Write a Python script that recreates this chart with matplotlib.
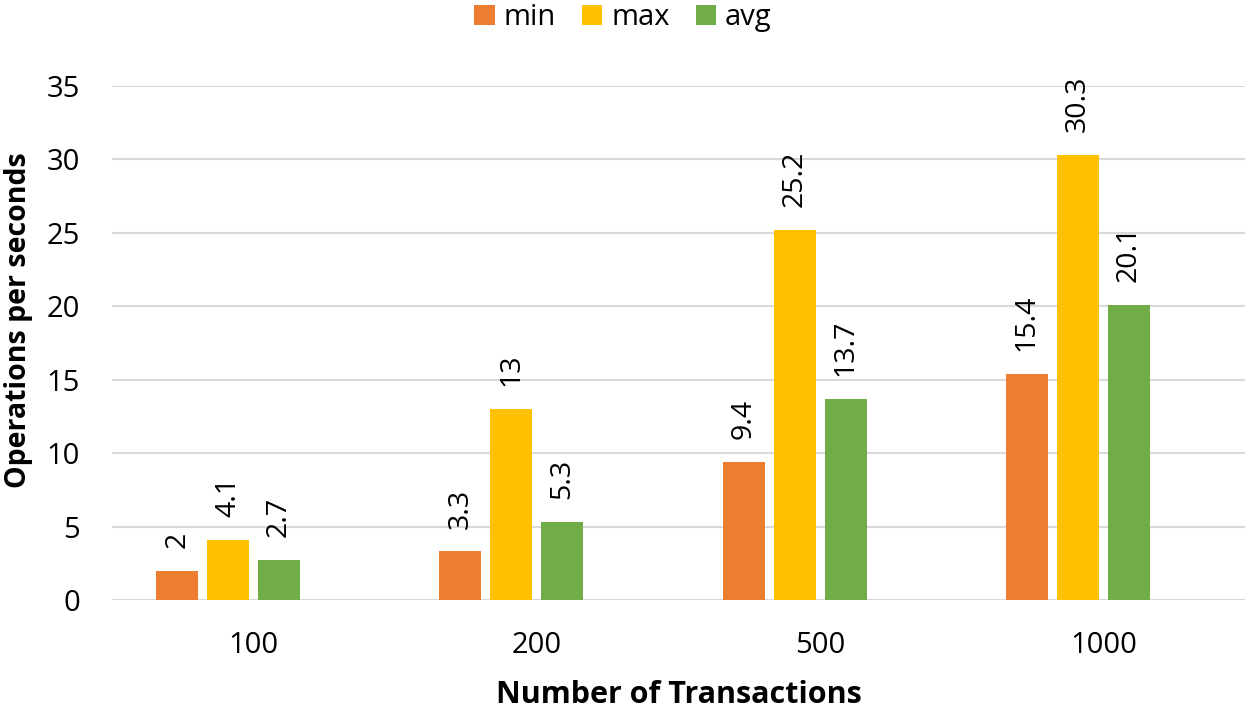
import matplotlib
matplotlib.use("Agg")
import matplotlib.pyplot as plt
import numpy as np

categories = ["100", "200", "500", "1000"]
series_names = ["min", "max", "avg"]
min_vals = [2, 3.3, 9.4, 15.4]
max_vals = [4.1, 13, 25.2, 30.3]
avg_vals = [2.7, 5.3, 13.7, 20.1]
colors = ["#ED7D31", "#FFC000", "#70AD47"]

plt.rcParams['font.family'] = ['Open Sans', 'DejaVu Sans']

fig = plt.figure(figsize=(12.5, 7.1), dpi=100)
ax = fig.add_axes([0.0896, 0.155, 0.9064, 0.724])

x = np.arange(len(categories))
slot = 0.18
width = 0.148
offsets = [-1.5 * slot, -0.5 * slot, 0.5 * slot]
all_vals = [min_vals, max_vals, avg_vals]

for name, vals, off, c in zip(series_names, all_vals, offsets, colors):
    bars = ax.bar(x + off, vals, width=width, color=c, label=name, zorder=3)
    for b, v in zip(bars, vals):
        ax.annotate(f"{v:g}", (b.get_x() + b.get_width() / 2, v),
                    xytext=(0, 16.5), textcoords="offset points",
                    rotation=90, ha="center", va="bottom", fontsize=20.5, color="#000000")

ax.set_xlim(-0.5, 3.5)
ax.set_ylim(0, 35)
ax.set_yticks(range(0, 36, 5))
ax.set_xticks(x)
ax.set_xticklabels(categories)
ax.tick_params(axis='both', length=0, labelsize=21)
ax.tick_params(axis='y', pad=23)
ax.tick_params(axis='x', pad=22)
ax.grid(axis='y', color='#d9d9d9', linewidth=1.5, zorder=0)
for s in ax.spines.values():
    s.set_visible(False)

ax.set_ylabel("Operations per seconds", fontsize=20.5, fontweight='bold')
ax.yaxis.set_label_coords(-0.0695, 0.545)
ax.set_xlabel("Number of Transactions", fontsize=22, fontweight='bold', labelpad=15)

ax.legend(loc='upper center', bbox_to_anchor=(0.451, 1.212), ncol=3, frameon=False,
          fontsize=21, handlelength=0.7, handleheight=0.7, handletextpad=0.3, columnspacing=0.9)

fig.savefig("out.png", dpi=100)
